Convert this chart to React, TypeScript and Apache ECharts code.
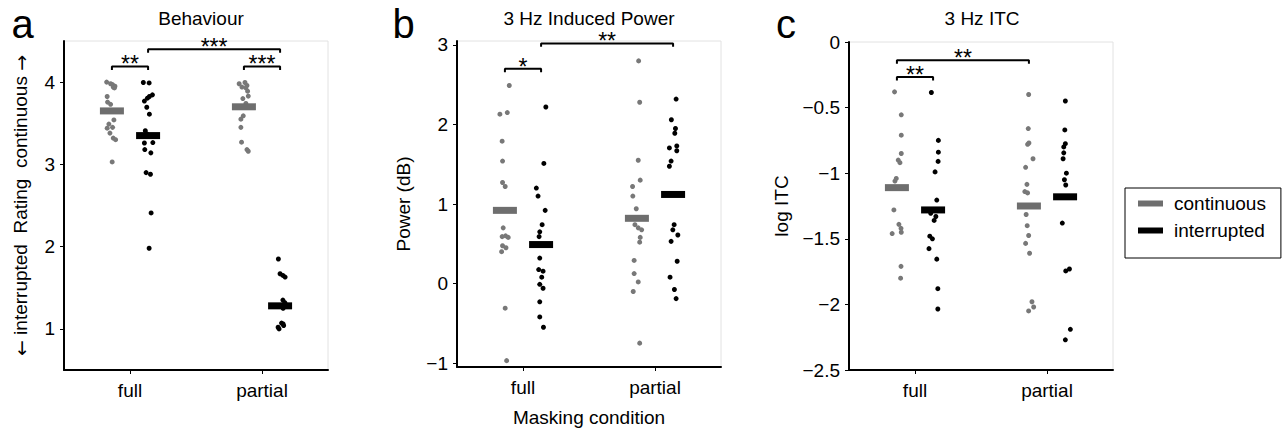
import React, { useEffect, useRef } from "react";
import * as echarts from "echarts";

// ---------- data ----------
const CATEGORIES = ["full", "partial"];
const CONDITIONS = ["continuous", "interrupted"];

// Panel a: Behaviour (rating)
const A_FULL_CONT = [4.0, 3.98, 3.97, 3.95, 3.94, 3.93, 3.825, 3.757, 3.73, 3.54, 3.49, 3.45, 3.44, 3.38, 3.32, 3.3, 3.03];
const A_FULL_CONT_JIT = [-0.04, -0.01, 0.005, 0.023, 0.01, 0.019, -0.036, -0.033, -0.01, 0.015, -0.023, 0.005, -0.036, -0.015, 0.01, 0.028, 0.002];
const A_FULL_INT = [3.995, 3.99, 3.845, 3.825, 3.805, 3.77, 3.695, 3.61, 3.41, 3.37, 3.26, 3.265, 3.18, 3.14, 2.9, 2.88, 2.41, 1.98];
const A_FULL_INT_JIT = [-0.036, 0.008, 0.033, 0.01, -0.005, -0.028, -0.01, 0.01, -0.021, -0.01, -0.028, 0.036, -0.025, 0.021, -0.015, 0.018, 0.023, 0.008];
const A_PART_CONT = [3.98, 3.995, 3.96, 3.93, 3.89, 3.94, 3.83, 3.8, 3.74, 3.7, 3.59, 3.55, 3.45, 3.27, 3.18, 3.16];
const A_PART_CONT_JIT = [-0.036, 0.008, 0.023, 0.015, 0.028, -0.015, 0.033, -0.008, 0.015, 0.0, -0.005, -0.023, -0.023, -0.018, 0.023, 0.033];
const A_PART_INT = [1.85, 1.67, 1.65, 1.63, 1.35, 1.32, 1.28, 1.25, 1.07, 1.06, 1.04, 1.02, 1.0];
const A_PART_INT_JIT = [-0.013, 0.0, 0.021, 0.038, 0.021, 0.036, 0.0, 0.023, 0.011, 0.023, 0.027, -0.015, -0.008];
const A_MEANS_CONT = [3.65, 3.7];
const A_MEANS_INT = [3.35, 1.28];

// Panel b: 3 Hz induced power (dB)
const B_FULL_CONT = [2.49, 2.13, 2.15, 1.79, 1.54, 1.27, 1.22, 0.7, 0.59, 0.6, 0.58, 0.475, 0.45, 0.4, -0.31, -0.97];
const B_FULL_CONT_JIT = [0.033, -0.038, 0.018, -0.021, -0.018, -0.018, 0.002, -0.013, -0.021, 0.005, 0.025, -0.018, 0.008, -0.025, 0.002, 0.013];
const B_FULL_INT = [2.22, 1.51, 1.2, 1.1, 0.92, 0.74, 0.65, 0.59, 0.32, 0.175, 0.155, 0.08, -0.01, -0.06, -0.23, -0.42, -0.55];
const B_FULL_INT_JIT = [0.036, 0.021, -0.036, -0.023, 0.031, 0.008, -0.01, -0.015, -0.01, -0.018, 0.015, 0.005, -0.01, 0.015, -0.01, -0.01, 0.018];
const B_PART_CONT = [2.8, 2.28, 1.55, 1.3, 1.22, 1.1, 0.94, 0.74, 0.7, 0.675, 0.58, 0.52, 0.29, 0.125, 0.02, -0.1, -0.75];
const B_PART_CONT_JIT = [0.013, 0.021, 0.01, 0.025, -0.033, -0.031, -0.005, -0.015, 0.01, 0.036, 0.025, 0.021, -0.021, -0.021, 0.01, -0.028, 0.021];
const B_PART_INT = [2.32, 2.06, 1.95, 1.89, 1.705, 1.73, 1.67, 1.54, 1.475, 0.74, 0.675, 0.61, 0.53, 0.28, 0.08, -0.075, -0.19];
const B_PART_INT_JIT = [0.023, -0.013, 0.018, 0.013, -0.028, 0.028, 0.028, -0.015, -0.028, 0.008, -0.002, 0.036, -0.015, 0.031, -0.023, 0.01, 0.023];
const B_MEANS_CONT = [0.92, 0.82];
const B_MEANS_INT = [0.49, 1.12];

// Panel c: 3 Hz ITC (log)
const C_FULL_CONT = [-0.38, -0.555, -0.71, -0.85, -0.9, -0.92, -1.04, -1.06, -1.28, -1.39, -1.42, -1.45, -1.46, -1.71, -1.8];
const C_FULL_CONT_JIT = [-0.018, 0.033, 0.033, 0.033, 0.01, 0.023, -0.005, -0.015, -0.023, 0.015, 0.031, 0.033, -0.036, 0.031, 0.028];
const C_FULL_INT = [-0.385, -0.75, -0.84, -0.91, -0.99, -1.205, -1.305, -1.33, -1.36, -1.48, -1.5, -1.575, -1.655, -1.88, -2.035];
const C_FULL_INT_JIT = [-0.013, 0.04, 0.04, 0.038, 0.015, 0.028, -0.018, 0.021, 0.008, -0.025, -0.005, -0.031, 0.028, 0.036, 0.036];
const C_PART_CONT = [-0.4, -0.66, -0.78, -0.77, -0.89, -0.955, -1.085, -1.14, -1.15, -1.315, -1.4, -1.475, -1.535, -1.61, -1.98, -2.02, -2.05];
const C_PART_CONT_JIT = [-0.002, -0.005, -0.01, 0.0, 0.031, -0.025, -0.015, -0.031, -0.01, -0.021, -0.013, -0.002, -0.025, 0.005, 0.023, 0.036, -0.002];
const C_PART_INT = [-0.45, -0.67, -0.775, -0.8, -0.845, -0.89, -1.0, -1.05, -1.09, -1.38, -1.745, -1.73, -2.19, -2.27];
const C_PART_INT_JIT = [0.002, -0.002, 0.002, -0.01, -0.01, -0.015, 0.01, -0.005, 0.005, -0.021, 0.005, 0.033, 0.04, 0.002];
const C_MEANS_CONT = [-1.11, -1.25];
const C_MEANS_INT = [-1.28, -1.18];

// Significance annotations: [fromGroup, toGroup, level, stars]
// group ids: 0 full-cont, 1 full-int, 2 partial-cont, 3 partial-int
const A_SIG = [[0, 1, 4.19, "**"], [1, 3, 4.4, "***"], [2, 3, 4.19, "***"]];
const B_SIG = [[0, 1, 2.7, "*"], [1, 3, 3.02, "**"]];
const C_SIG = [[0, 2, -0.14, "**"], [0, 1, -0.266, "**"]];

// Tick labels
const A_TICKS = [1, 2, 3, 4];
const B_TICKS = [-1, 0, 1, 2, 3];
const C_TICKS = [-2.5, -2, -1.5, -1, -0.5, 0];

const TITLES = ["Behaviour", "3 Hz Induced Power", "3 Hz ITC"];
const LETTERS = ["a", "b", "c"];
const Y_NAMES = ["{arr|\u2190} interrupted  Rating  continuous {arr|\u2192}", "Power (dB)", "log ITC"];
const X_NAME = "Masking condition";

// ---------- styling / layout ----------
const FONT = "Liberation Sans, Arial, Helvetica, sans-serif";
const DOT_GRAY = "#787878";
const BAR_GRAY = "#6e6e6e";
const OFFSET = 0.137;

const PANELS = [
  { grid: { left: 64, top: 41, width: 264, height: 329 }, min: 0.5, max: 4.5, ticks: A_TICKS, nameGap: 34,
    groups: [[A_FULL_CONT, A_FULL_CONT_JIT], [A_FULL_INT, A_FULL_INT_JIT], [A_PART_CONT, A_PART_CONT_JIT], [A_PART_INT, A_PART_INT_JIT]],
    meansCont: A_MEANS_CONT, meansInt: A_MEANS_INT, sig: A_SIG, titleX: 201 },
  { grid: { left: 457, top: 41, width: 264, height: 328 }, min: -1.05, max: 3.05, ticks: B_TICKS, nameGap: 44,
    groups: [[B_FULL_CONT, B_FULL_CONT_JIT], [B_FULL_INT, B_FULL_INT_JIT], [B_PART_CONT, B_PART_CONT_JIT], [B_PART_INT, B_PART_INT_JIT]],
    meansCont: B_MEANS_CONT, meansInt: B_MEANS_INT, sig: B_SIG, titleX: 589 },
  { grid: { left: 849, top: 42, width: 264, height: 328 }, min: -2.5, max: 0, ticks: C_TICKS, nameGap: 58,
    groups: [[C_FULL_CONT, C_FULL_CONT_JIT], [C_FULL_INT, C_FULL_INT_JIT], [C_PART_CONT, C_PART_CONT_JIT], [C_PART_INT, C_PART_INT_JIT]],
    meansCont: C_MEANS_CONT, meansInt: C_MEANS_INT, sig: C_SIG, titleX: 982 },
];
const LETTER_X = [11.5, 392.5, 776];

function groupCenter(g: number) {
  const cat = g < 2 ? 1 : 2;
  const cont = g % 2 === 0;
  return cat + (cont ? -OFFSET : OFFSET);
}

function fmt(v: number) {
  return String(v).replace("-", "\u2212");
}

function buildOption() {
  const grid: any[] = [];
  const xAxis: any[] = [];
  const yAxis: any[] = [];
  const series: any[] = [];

  PANELS.forEach((p, i) => {
    grid.push({ ...p.grid, show: true, borderColor: "#e2e2e2", borderWidth: 1, backgroundColor: "transparent" });
    xAxis.push({
      type: "value", gridIndex: i, min: 0.5, max: 2.5,
      name: i === 1 ? X_NAME : "", nameLocation: "middle", nameGap: 41,
      nameTextStyle: { fontSize: 19, color: "#000", fontFamily: FONT },
      splitLine: { show: false },
      axisLine: { show: true, onZero: false, lineStyle: { color: "#000", width: 2 } },
      axisTick: { show: true, length: 4, customValues: [1, 2], lineStyle: { color: "#000", width: 1 } },
      axisLabel: { customValues: [1, 2], formatter: (v: number) => CATEGORIES[Math.round(v) - 1], fontSize: 19, color: "#000", margin: 11, fontFamily: FONT },
    });
    yAxis.push({
      type: "value", gridIndex: i, min: p.min, max: p.max,
      name: Y_NAMES[i], nameLocation: "middle", nameGap: p.nameGap,
      nameTextStyle: {
        fontSize: 19, color: "#000", fontFamily: FONT,
        rich: { arr: { fontSize: 19, color: "#000", fontFamily: "DejaVu Sans" } },
      },
      splitLine: { show: false },
      axisLine: { show: true, onZero: false, lineStyle: { color: "#000", width: 2 } },
      axisTick: { show: true, length: 4, customValues: p.ticks, lineStyle: { color: "#000", width: 1 } },
      axisLabel: { customValues: p.ticks, formatter: (v: number) => fmt(v), fontSize: 19, color: "#000", margin: 9, fontFamily: FONT },
    });

    p.groups.forEach(([vals, jit], g) => {
      const c = groupCenter(g);
      series.push({
        type: "scatter", xAxisIndex: i, yAxisIndex: i, symbol: "circle", symbolSize: 5, z: 2, silent: true,
        itemStyle: { color: g % 2 === 0 ? DOT_GRAY : "#000", opacity: 1 },
        data: (vals as number[]).map((v, k) => [c + (jit as number[])[k], v]),
      });
    });

    series.push({
      name: CONDITIONS[0], type: "scatter", xAxisIndex: i, yAxisIndex: i, symbol: "rect", symbolSize: [24, 7], z: 4, silent: true,
      itemStyle: { color: BAR_GRAY, opacity: 1 },
      data: p.meansCont.map((m, k) => [groupCenter(k * 2), m]),
    });
    series.push({
      name: CONDITIONS[1], type: "scatter", xAxisIndex: i, yAxisIndex: i, symbol: "rect", symbolSize: [24, 7], z: 4, silent: true,
      itemStyle: { color: "#000", opacity: 1 },
      data: p.meansInt.map((m, k) => [groupCenter(k * 2 + 1), m]),
    });

    const pxPerUnit = p.grid.height / (p.max - p.min);
    const leg = 3.5 / pxPerUnit;
    (p.sig as any[]).forEach(([g1, g2, lvl, stars]) => {
      const x1 = groupCenter(g1);
      const x2 = groupCenter(g2);
      series.push({
        type: "line", xAxisIndex: i, yAxisIndex: i, symbol: "none", showSymbol: false, silent: true, z: 5,
        lineStyle: { color: "#000", width: 2, opacity: 1 },
        data: [[x1, lvl - leg], [x1, lvl], [x2, lvl], [x2, lvl - leg]],
      });
      series.push({
        type: "scatter", xAxisIndex: i, yAxisIndex: i, symbolSize: 0, silent: true, z: 6,
        itemStyle: { color: "#000", opacity: 1 },
        label: {
          show: true, position: "inside", offset: [0, -2], formatter: stars,
          fontSize: 23, lineHeight: 12, color: "#000", opacity: 1,
          textBorderWidth: 0, fontFamily: FONT,
        },
        data: [[(x1 + x2) / 2, lvl]],
      });
    });
  });

  const graphic: any[] = [];
  PANELS.forEach((p, i) => {
    graphic.push({
      type: "text", x: p.titleX, y: 18.5, silent: true,
      style: { text: TITLES[i], fontSize: 19, fontFamily: FONT, fill: "#000", align: "center", verticalAlign: "middle" },
    });
    graphic.push({
      type: "text", x: LETTER_X[i], y: 24, silent: true,
      style: { text: LETTERS[i], fontSize: 40, fontFamily: FONT, fill: "#000", align: "left", verticalAlign: "middle" },
    });
  });

  return {
    animation: false,
    textStyle: { fontFamily: FONT },
    grid, xAxis, yAxis, series, graphic,
    legend: {
      orient: "vertical", left: 1125, top: 188, selectedMode: false,
      padding: [6, 15, 18, 13], itemWidth: 25, itemHeight: 6, itemGap: 8,
      borderColor: "#000", borderWidth: 1, backgroundColor: "#fff",
      textStyle: { fontSize: 19, color: "#000", fontFamily: FONT, padding: [0, 0, 0, 6] },
      data: [{ name: CONDITIONS[0], icon: "rect" }, { name: CONDITIONS[1], icon: "rect" }],
    },
  };
}

export default function App() {
  const ref = useRef<HTMLDivElement>(null);
  useEffect(() => {
    if (!ref.current) return;
    const chart = echarts.init(ref.current, undefined, { renderer: "svg" });
    chart.setOption(buildOption() as any);
    return () => chart.dispose();
  }, []);
  return (
    <div
      ref={ref}
      style={{ position: "fixed", left: 0, top: 0, width: 1285, height: 432, background: "#fff" }}
    />
  );
}
